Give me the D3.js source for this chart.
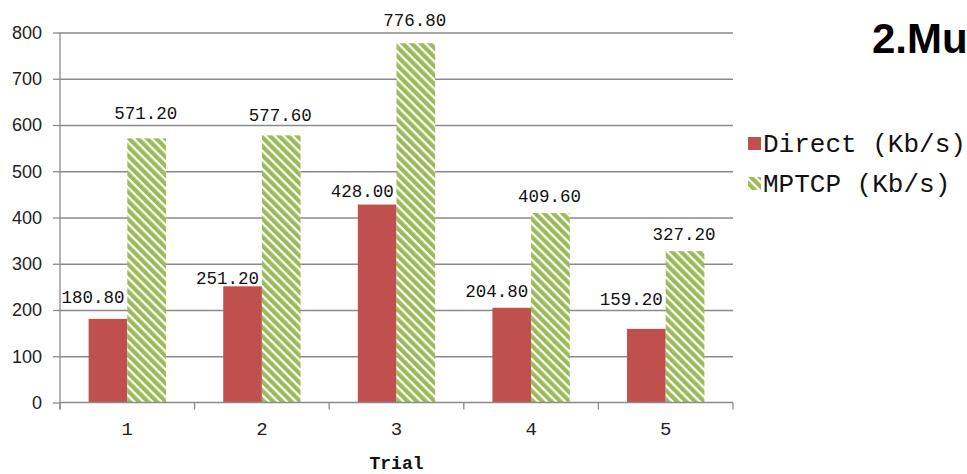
<!DOCTYPE html>
<html>
<head>
<meta charset="utf-8">
<script src="https://cdn.jsdelivr.net/npm/d3@7"></script>
<style>
  body { margin: 0; background: #fff; }
  svg { display: block; }
</style>
</head>
<body>
<svg id="chart" width="967" height="474"></svg>
<script>
var TRIALS = ['1', '2', '3', '4', '5'];
var SERIES = ['Direct (Kb/s)', 'MPTCP (Kb/s)'];
var DIRECT = [180.8, 251.2, 428.0, 204.8, 159.2];
var MPTCP = [571.2, 577.6, 776.8, 409.6, 327.2];
var Y_TICKS = [0, 100, 200, 300, 400, 500, 600, 700, 800];

// the value labels were dragged around by hand in the original
var DIRECT_LABEL_DY = [-16, -2, -8, -11, -24];
var MPTCP_LABEL_DY = [-19, -14, -17, -11, -11];

var RED = '#c0504d';
var GREEN = '#9bbb59';
var GRID = '#8a8a8a';
var MONO = '"Liberation Mono", "DejaVu Sans Mono", monospace';

function draw() {
  var svg = d3.select('#chart');

  var plotL = 60, plotR = 733, plotT = 32.5, plotB = 402.5;

  var x0 = d3.scaleBand().domain(TRIALS).range([plotL, plotR]).padding(0);
  var x1 = d3.scaleBand().domain(SERIES).range([0, x0.bandwidth()])
    .paddingInner(0).paddingOuter(0.74);
  var y = d3.scaleLinear().domain([0, 800]).range([plotB, plotT]);

  var defs = svg.append('defs');
  var pat = defs.append('pattern')
    .attr('id', 'hatch')
    .attr('patternUnits', 'userSpaceOnUse')
    .attr('width', 6.4).attr('height', 6.4)
    .attr('patternTransform', 'rotate(-45)');
  pat.append('rect').attr('width', 6.4).attr('height', 6.4).attr('fill', '#fff');
  pat.append('rect').attr('width', 4.2).attr('height', 6.4).attr('fill', GREEN);

  // grid
  svg.append('g')
    .attr('transform', 'translate(' + plotL + ',0)')
    .call(d3.axisLeft(y).tickValues(Y_TICKS.slice(1)).tickSize(-(plotR - plotL)).tickFormat(''))
    .call(function(g) {
      g.select('.domain').remove();
      g.selectAll('line').attr('stroke', GRID).attr('stroke-width', 1.3);
    });

  // y axis
  svg.append('g')
    .attr('transform', 'translate(' + plotL + ',0)')
    .call(d3.axisLeft(y).tickValues(Y_TICKS).tickSize(7).tickSizeOuter(0).tickPadding(11))
    .call(function(g) {
      g.select('.domain').attr('stroke', GRID).attr('stroke-width', 1.3)
        .attr('d', 'M0,' + plotT + 'V' + (plotB + 7));
      g.selectAll('line').attr('stroke', GRID).attr('stroke-width', 1.3);
      g.selectAll('text')
        .attr('font-family', '"Liberation Sans", Arial, sans-serif')
        .attr('font-size', 18).attr('fill', '#222');
    });

  // bars
  var rows = TRIALS.map(function(t, i) {
    return [
      { trial: t, key: SERIES[0], value: DIRECT[i], dy: DIRECT_LABEL_DY[i], dx: -15 },
      { trial: t, key: SERIES[1], value: MPTCP[i], dy: MPTCP_LABEL_DY[i], dx: -1 }
    ];
  });

  var groups = svg.append('g').selectAll('g')
    .data(rows)
    .enter().append('g')
    .attr('transform', function(d, i) { return 'translate(' + x0(TRIALS[i]) + ',0)'; });

  groups.selectAll('rect')
    .data(function(d) { return d; })
    .enter().append('rect')
    .attr('x', function(d) { return x1(d.key); })
    .attr('y', function(d) { return y(d.value); })
    .attr('width', x1.bandwidth())
    .attr('height', function(d) { return y(0) - y(d.value); })
    .attr('fill', function(d) { return d.key === SERIES[0] ? RED : 'url(#hatch)'; });

  groups.selectAll('text')
    .data(function(d) { return d; })
    .enter().append('text')
    .attr('x', function(d) { return x1(d.key) + x1.bandwidth() / 2 + d.dx; })
    .attr('y', function(d) { return y(d.value) + d.dy; })
    .attr('text-anchor', 'middle')
    .attr('font-family', MONO)
    .attr('font-size', 17.5)
    .attr('fill', '#111')
    .text(function(d) { return d.value.toFixed(2); });

  // x axis: line, boundary ticks, centred labels
  var xg = svg.append('g').attr('transform', 'translate(0,' + plotB + ')');
  xg.append('line')
    .attr('x1', plotL).attr('x2', plotR)
    .attr('stroke', GRID).attr('stroke-width', 1.3);
  xg.selectAll('.edge')
    .data(TRIALS.map(function(t) { return x0(t); }).concat([plotR]))
    .enter().append('line')
    .attr('class', 'edge')
    .attr('x1', function(d) { return d; }).attr('x2', function(d) { return d; })
    .attr('y1', 0).attr('y2', 7)
    .attr('stroke', GRID).attr('stroke-width', 1.3);
  xg.selectAll('.lbl')
    .data(TRIALS)
    .enter().append('text')
    .attr('class', 'lbl')
    .attr('x', function(d) { return x0(d) + x0.bandwidth() / 2; })
    .attr('y', 32)
    .attr('text-anchor', 'middle')
    .attr('font-family', MONO)
    .attr('font-size', 19)
    .attr('fill', '#222')
    .text(function(d) { return d; });

  svg.append('text')
    .attr('x', (plotL + plotR) / 2)
    .attr('y', 469)
    .attr('text-anchor', 'middle')
    .attr('font-family', MONO)
    .attr('font-weight', 'bold')
    .attr('font-size', 18)
    .attr('fill', '#111')
    .text('Trial');

  // legend
  var legend = svg.append('g').selectAll('g')
    .data(SERIES)
    .enter().append('g')
    .attr('transform', function(d, i) { return 'translate(748,' + (137 + i * 40) + ')'; });
  legend.append('rect')
    .attr('width', 13).attr('height', 13)
    .attr('fill', function(d, i) { return i === 0 ? RED : 'url(#hatch)'; });
  legend.append('text')
    .attr('x', 15).attr('y', 15)
    .attr('font-family', MONO)
    .attr('font-size', 26)
    .attr('fill', '#111')
    .text(function(d) { return d; });

  svg.append('text')
    .attr('x', 872).attr('y', 53)
    .attr('font-family', '"Liberation Sans", Arial, sans-serif')
    .attr('font-weight', 'bold')
    .attr('font-size', 42)
    .attr('fill', '#000')
    .text('2.Mu');
}

draw();
</script>
</body>
</html>
